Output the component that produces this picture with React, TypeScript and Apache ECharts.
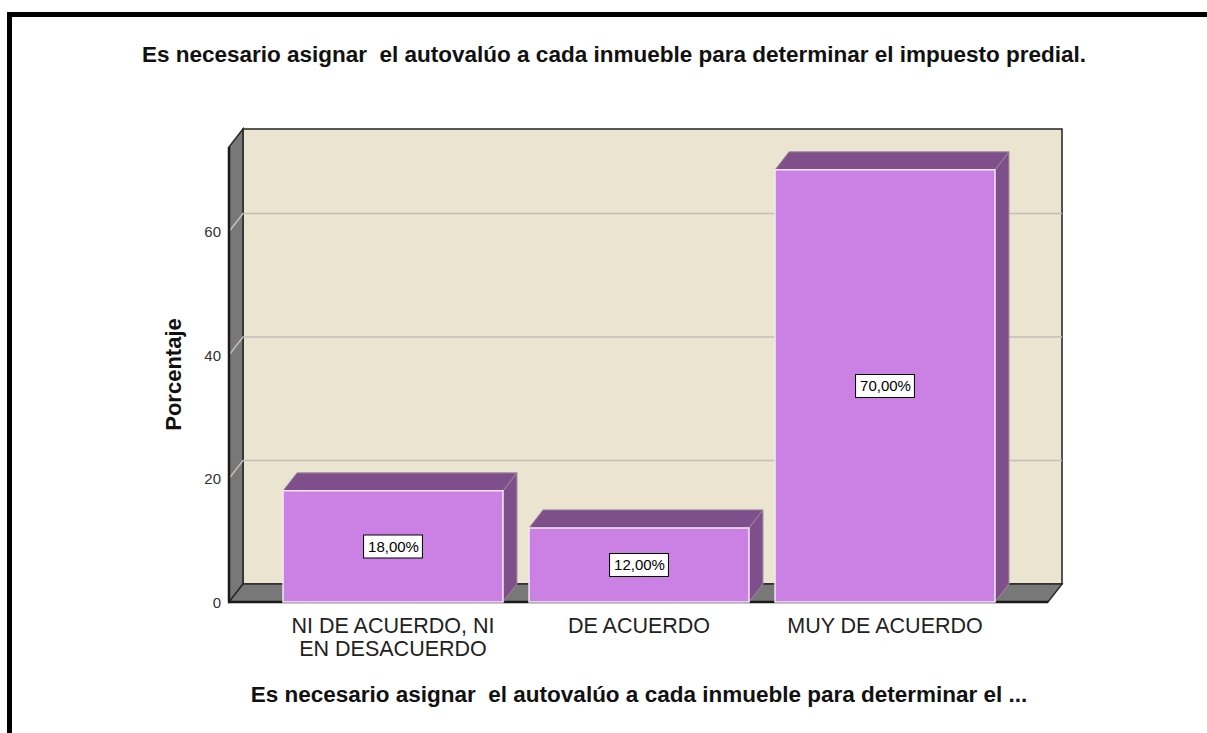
import React, { useEffect, useRef } from "react";
import * as echarts from "echarts";

const categories = ["NI DE ACUERDO, NI\nEN DESACUERDO", "DE ACUERDO", "MUY DE ACUERDO"];
const percentages = [18, 12, 70];
const gridValues = [20, 40, 60];
const titleText = "Es necesario asignar  el autovalúo a cada inmueble para determinar el impuesto predial.";
const xAxisName = "Es necesario asignar  el autovalúo a cada inmueble para determinar el ...";
const yAxisName = "Porcentaje";

const FONT = "'Liberation Sans', Arial, sans-serif";
const DX = 14;
const DY = -18;

export default function App() {
  const ref = useRef<HTMLDivElement>(null);

  useEffect(() => {
    if (!ref.current) return;
    const chart = echarts.init(ref.current, null, { renderer: "svg" });

    const renderFrame = (params: any, api: any) => {
      const cs = params.coordSys;
      const L = cs.x - 41;
      const R = cs.x + cs.width + 40;
      const T = cs.y;
      const B = cs.y + cs.height;
      const children: any[] = [];
      children.push({
        type: "rect",
        shape: { x: L + DX, y: T + DY, width: R - L, height: B - T },
        style: { fill: "#EAE4D0", stroke: "#222", lineWidth: 1.5 },
      });
      children.push({
        type: "polygon",
        shape: { points: [[L, T], [L + DX, T + DY], [L + DX, B + DY], [L, B]] },
        style: { fill: "#787878", stroke: "#2a2a2a", lineWidth: 1.5 },
      });
      children.push({
        type: "polygon",
        shape: { points: [[L, B], [R, B], [R + DX, B + DY], [L + DX, B + DY]] },
        style: { fill: "#787878", stroke: "#2a2a2a", lineWidth: 1.5 },
      });
      gridValues.forEach((v) => {
        const y = api.coord([0, v])[1];
        children.push({
          type: "polyline",
          shape: { points: [[L, y], [L + DX, y + DY], [R + DX, y + DY]] },
          style: { stroke: "#C3BFB6", lineWidth: 1.5, fill: "none" },
        });
      });
      children.push({
        type: "line",
        shape: { x1: L, y1: T, x2: L, y2: B },
        style: { stroke: "#1a1a1a", lineWidth: 2.5 },
      });
      children.push({
        type: "line",
        shape: { x1: L, y1: B, x2: R, y2: B },
        style: { stroke: "#1a1a1a", lineWidth: 2.5 },
      });
      return { type: "group", children };
    };

    const renderBar = (params: any, api: any) => {
      const i = api.value(0);
      const v = api.value(1);
      const top = api.coord([i, v]);
      const base = api.coord([i, 0]);
      const w = api.size([1, 0])[0] * 0.894;
      const x0 = top[0] - w / 2;
      const x1 = top[0] + w / 2;
      const yT = top[1];
      const yB = base[1];
      return {
        type: "group",
        children: [
          {
            type: "polygon",
            shape: { points: [[x1, yT], [x1 + DX, yT + DY], [x1 + DX, yB + DY], [x1, yB]] },
            style: { fill: "#7F4F8C", stroke: "#9a8a9a", lineWidth: 1 },
          },
          {
            type: "polygon",
            shape: { points: [[x0, yT], [x0 + DX, yT + DY], [x1 + DX, yT + DY], [x1, yT]] },
            style: { fill: "#7F4F8C", stroke: "#9a8a9a", lineWidth: 1 },
          },
          {
            type: "rect",
            shape: { x: x0, y: yT, width: w, height: yB - yT },
            style: { fill: "#CB80E4", stroke: "#F3E6F5", lineWidth: 1.5 },
          },
          {
            type: "text",
            x: top[0],
            y: (yT + yB) / 2,
            style: {
              text: v.toFixed(2).replace(".", ",") + "%",
              align: "center",
              verticalAlign: "middle",
              fill: "#000",
              fontSize: 15,
              fontFamily: FONT,
              backgroundColor: "#fff",
              borderColor: "#000",
              borderWidth: 1,
              padding: [4, 3, 3, 4],
            },
          },
        ],
      };
    };

    chart.setOption({
      animation: false,
      backgroundColor: "#fff",
      title: {
        text: titleText,
        left: 609,
        top: 38,
        textAlign: "center",
        textStyle: { fontSize: 22.5, fontWeight: "bold", color: "#111", fontFamily: FONT },
      },
      grid: { left: 270, right: 199, top: 147, bottom: 131, containLabel: false },
      xAxis: {
        type: "category",
        data: categories,
        name: xAxisName,
        nameLocation: "middle",
        nameGap: 81,
        nameTextStyle: { fontSize: 22.5, fontWeight: "bold", color: "#111", fontFamily: FONT },
        axisLine: { show: false },
        axisTick: { show: false },
        splitLine: { show: false },
        axisLabel: {
          margin: 12,
          fontSize: 21.5,
          lineHeight: 23,
          color: "#222",
          fontFamily: FONT,
          interval: 0,
        },
      },
      yAxis: {
        type: "value",
        min: 0,
        max: 73.7,
        interval: 20,
        offset: 41,
        name: yAxisName,
        nameLocation: "middle",
        nameGap: 45,
        nameTextStyle: { fontSize: 22, fontWeight: "bold", color: "#111", fontFamily: FONT },
        axisLine: { show: false },
        axisTick: { show: false },
        splitLine: { show: false },
        axisLabel: {
          margin: 8,
          fontSize: 15,
          color: "#333",
          fontFamily: FONT,
          showMaxLabel: false,
        },
      },
      graphic: [
        {
          type: "rect",
          shape: { x: 9.5, y: 14.5, width: 1400, height: 900 },
          style: { fill: "none", stroke: "#000", lineWidth: 5 },
          z: 100,
        },
      ],
      series: [
        {
          type: "custom",
          renderItem: renderFrame,
          data: [[0, 0]],
          z: 1,
          silent: true,
        },
        {
          type: "custom",
          renderItem: renderBar,
          data: percentages.map((v, i) => [i, v]),
          z: 2,
        },
      ],
    });

    return () => chart.dispose();
  }, []);

  return (
    <div
      ref={ref}
      style={{ position: "fixed", left: 0, top: 0, width: 1207, height: 733 }}
    />
  );
}
